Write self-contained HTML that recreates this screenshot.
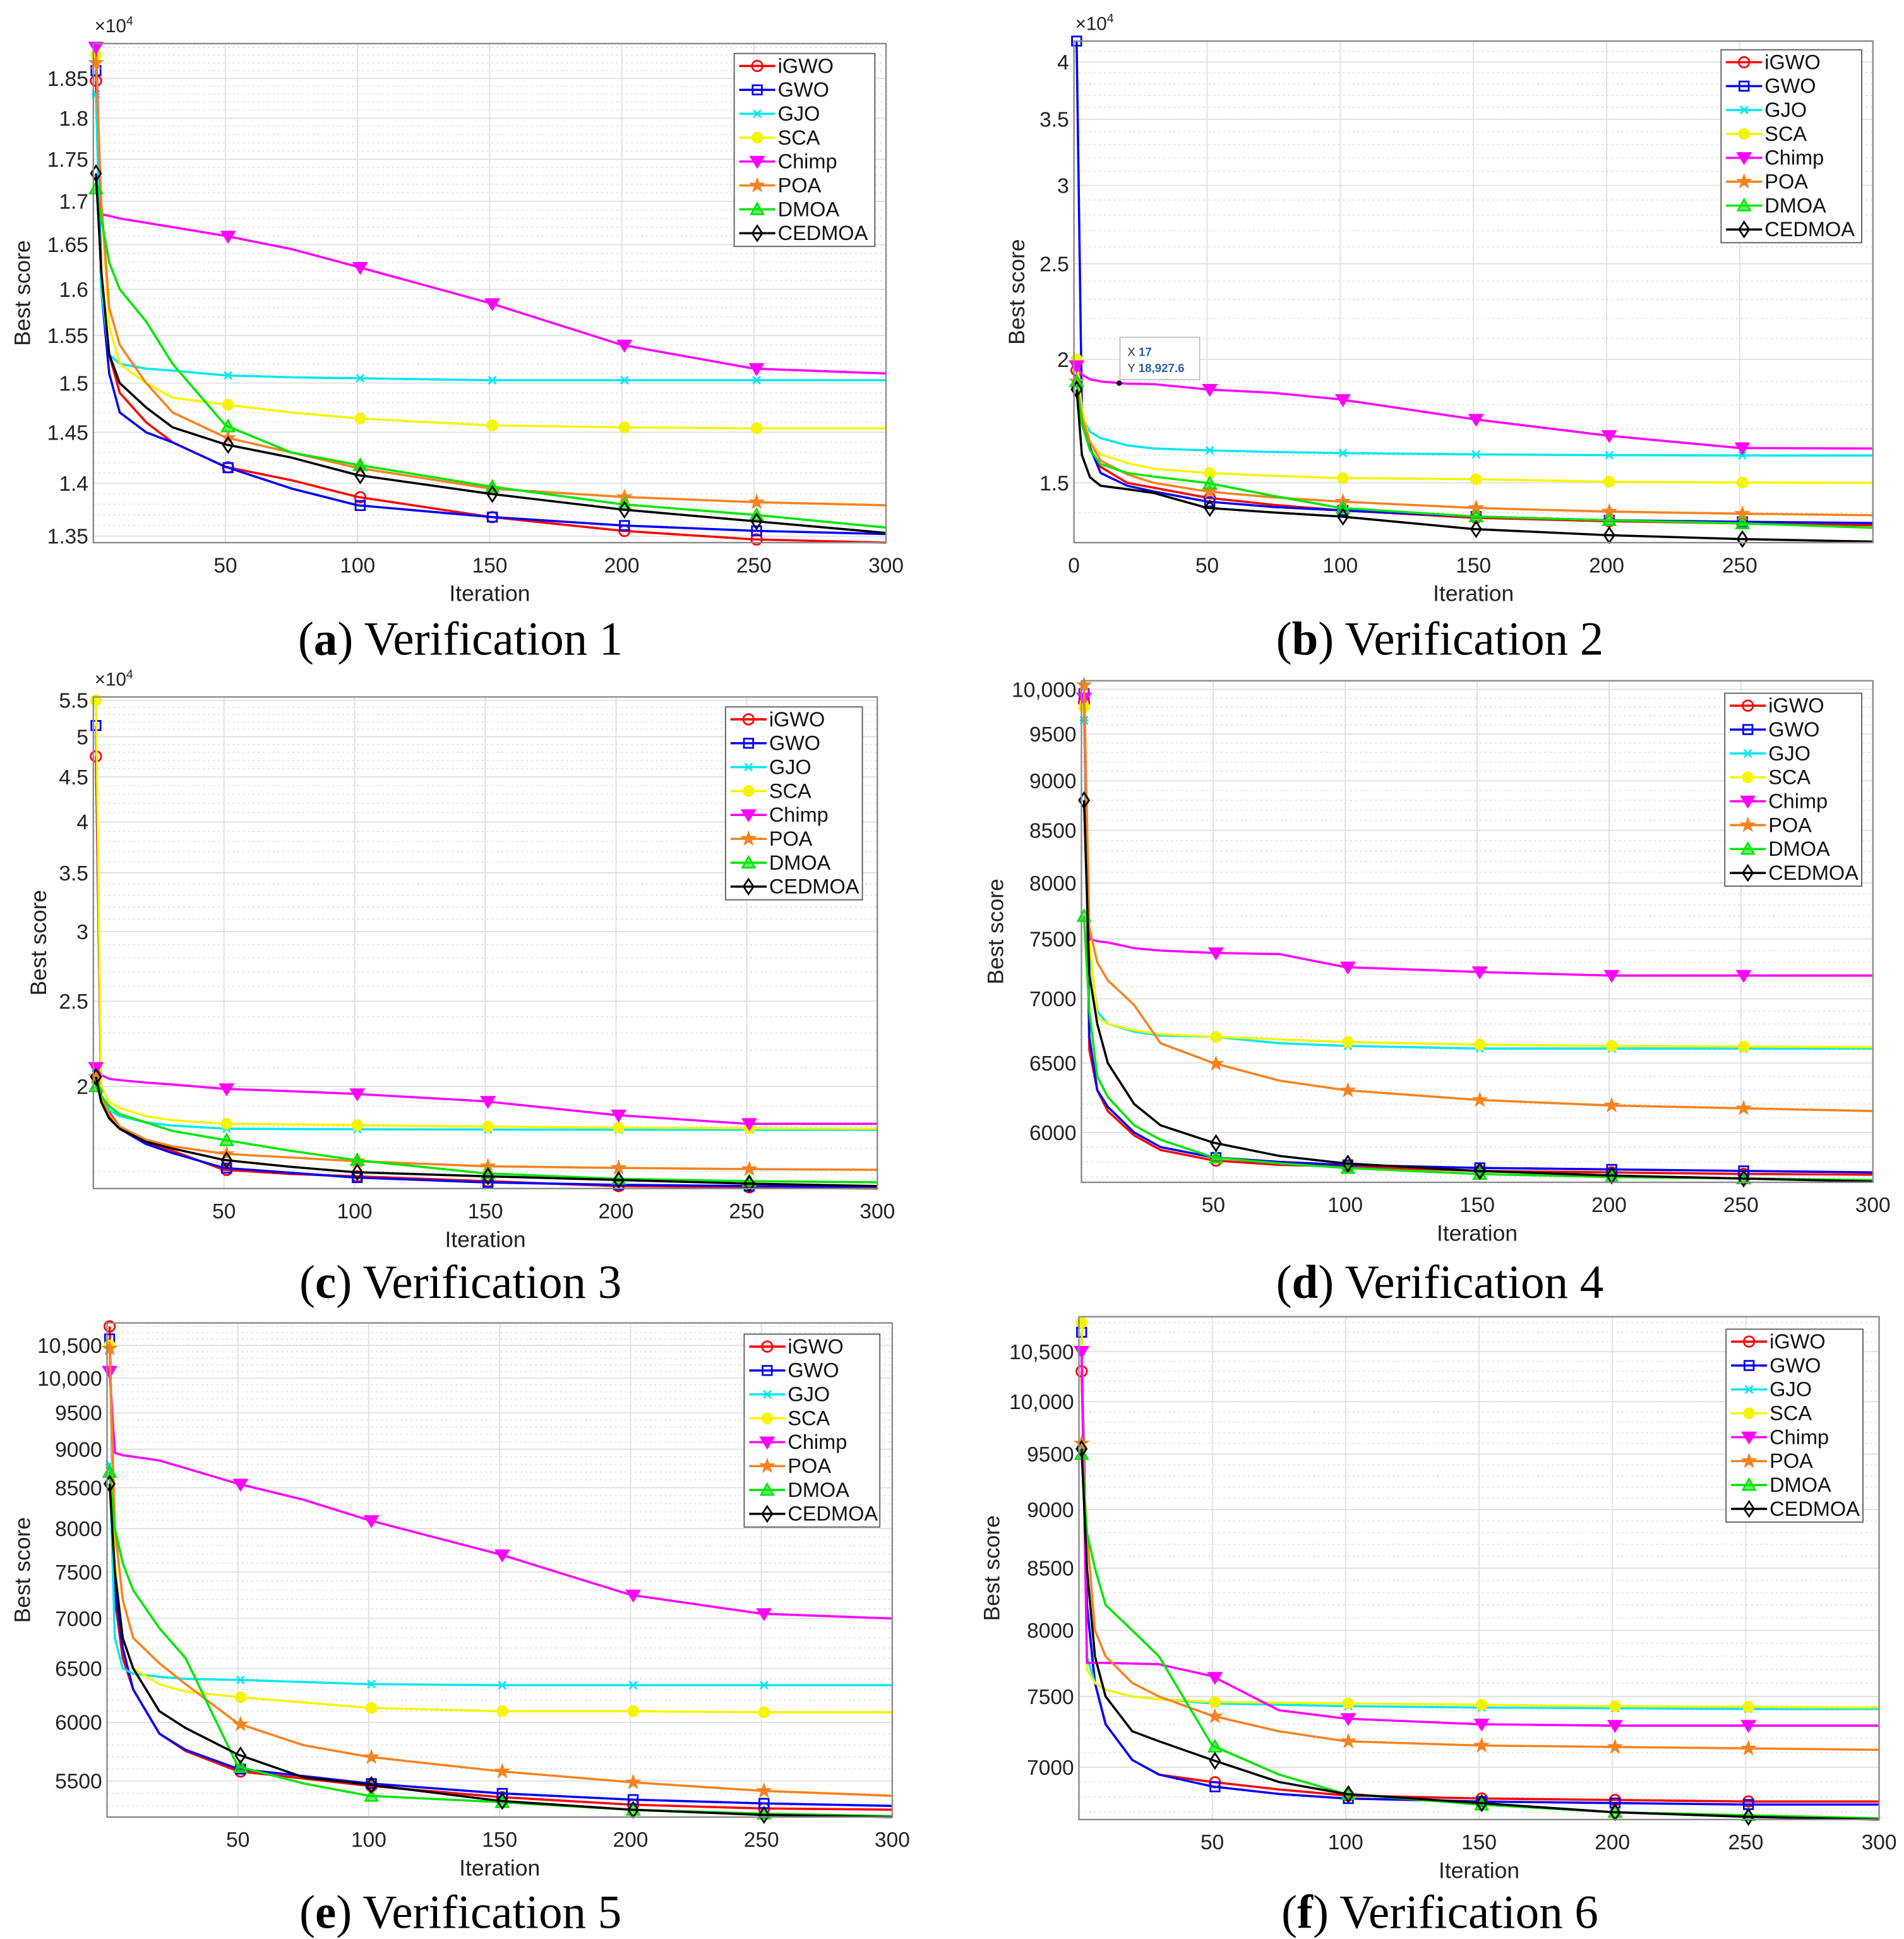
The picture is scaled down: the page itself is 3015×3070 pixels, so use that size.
<!DOCTYPE html>
<html><head><meta charset="utf-8"><title>Convergence curves</title>
<style>html,body{margin:0;padding:0;background:#fff}svg{display:block}</style></head>
<body>
<svg id="fig" xmlns="http://www.w3.org/2000/svg" width="3015" height="3070" viewBox="0 0 1530 1558" preserveAspectRatio="none" font-family="Liberation Sans, sans-serif"></svg>
<script>
// ---------- data ----------
const iters = [1,3,6,10,20,30,50,75,100,150,200,250,300];
const seriesNames = ['iGWO','GWO','GJO','SCA','Chimp','POA','DMOA','CEDMOA'];

const aIGWO=[18470,16200,15300,14900,14600,14400,14160,14030,13870,13680,13550,13470,13430];
const aGWO=[18600,16000,15100,14700,14500,14400,14160,13950,13790,13680,13600,13550,13520];
const aGJO=[18300,16000,15300,15200,15150,15130,15080,15060,15050,15030,15030,15030,15030];
const aSCA=[18800,17000,15600,15200,15000,14850,14780,14700,14640,14570,14550,14540,14540];
const aChimp=[18900,16850,16830,16800,16750,16700,16600,16450,16250,15850,15400,15150,15100];
const aPOA=[18700,17000,15800,15400,15000,14700,14450,14300,14150,13950,13870,13820,13790];
const aDMOA=[17150,16800,16300,16000,15650,15200,14570,14300,14180,13970,13800,13700,13580];
const aCED=[17330,16200,15300,15000,14750,14550,14380,14250,14080,13900,13750,13640,13530];

const bIGWO=[19500,17500,16200,15570,15000,14830,14490,14250,14070,13830,13720,13650,13590];
const bGWO=[42000,17500,16300,15350,14900,14700,14360,14180,14070,13870,13750,13700,13660];
const bGJO=[19800,17500,16900,16650,16370,16250,16180,16120,16080,16030,16000,15990,15990];
const bSCA=[20000,17800,16500,16030,15710,15500,15350,15250,15170,15130,15040,15010,15000];
const bChimp=[19700,19300,19100,19000,18900,18880,18650,18500,18220,17400,16750,16270,16250];
const bPOA=[19000,17500,16500,15800,15300,15000,14700,14500,14360,14150,14030,13960,13910];
const bDMOA=[19000,17200,16200,15670,15350,15220,15000,14550,14150,13870,13750,13650,13510];
const bCED=[18650,16000,15200,14900,14780,14650,14150,14000,13870,13470,13280,13160,13080];

const cIGWO=[47500,19500,18700,18000,17300,16900,16070,15900,15800,15600,15400,15350,15300];
const cGWO=[51500,19500,18600,17900,17200,16800,16150,15950,15750,15550,15450,15400,15360];
const cGJO=[21000,19500,18800,18500,18200,18050,17900,17880,17870,17860,17850,17850,17850];
const cSCA=[55000,20000,19200,18900,18500,18300,18130,18100,18070,18000,17950,17920,17900];
const cChimp=[21000,20600,20400,20330,20200,20100,19870,19750,19610,19230,18550,18130,18130];
const cPOA=[20500,19500,18600,18000,17400,17100,16760,16600,16440,16220,16150,16100,16070];
const cDMOA=[20000,19500,19000,18600,18200,17800,17380,16900,16490,15920,15700,15600,15550];
const cCED=[20500,19200,18400,17900,17300,17000,16490,16200,15970,15800,15650,15500,15400];

const dIGWO=[9850,6600,6300,6150,5980,5880,5810,5780,5770,5740,5730,5720,5715];
const dGWO=[9950,6700,6300,6180,6000,5900,5830,5800,5780,5760,5750,5740,5730];
const dGJO=[9650,7400,6900,6800,6740,6710,6700,6650,6630,6610,6610,6610,6610];
const dSCA=[9800,7500,6850,6800,6750,6720,6700,6680,6660,6640,6630,6625,6620];
const dChimp=[9900,7500,7480,7470,7420,7400,7380,7370,7260,7220,7190,7190,7190];
const dPOA=[10050,7600,7300,7150,6950,6650,6500,6370,6300,6230,6190,6170,6150];
const dDMOA=[7700,6900,6400,6250,6050,5950,5830,5790,5760,5720,5700,5690,5680];
const dCED=[8800,7200,6800,6500,6200,6050,5930,5840,5790,5740,5710,5690,5670];

const eIGWO=[10800,7200,6600,6300,5900,5750,5580,5520,5460,5370,5310,5280,5270];
const eGWO=[10600,7300,6700,6300,5900,5760,5600,5540,5480,5400,5350,5320,5300];
const eGJO=[8800,6800,6500,6450,6420,6400,6390,6370,6350,6340,6340,6340,6340];
const eSCA=[10500,7600,6800,6500,6350,6280,6230,6180,6130,6100,6100,6090,6090];
const eChimp=[10100,8950,8920,8900,8850,8750,8550,8350,8100,7700,7250,7050,7000];
const ePOA=[10450,8000,7200,6800,6550,6350,5990,5800,5700,5580,5490,5420,5380];
const eDMOA=[8700,8000,7600,7300,6900,6600,5620,5480,5380,5330,5270,5240,5220];
const eCED=[8550,7500,6800,6500,6100,5950,5720,5530,5470,5340,5270,5230,5200];

const fIGWO=[10300,8200,7600,7300,7050,6950,6900,6850,6810,6790,6780,6770,6770];
const fGWO=[10700,8200,7600,7300,7050,6950,6870,6820,6790,6770,6760,6750,6750];
const fGJO=[10500,7800,7600,7550,7500,7480,7450,7440,7430,7420,7415,7410,7410];
const fSCA=[10800,7700,7600,7550,7500,7480,7460,7455,7450,7440,7430,7425,7420];
const fChimp=[10500,7750,7750,7750,7745,7740,7650,7400,7340,7300,7290,7290,7290];
const fPOA=[9600,8800,8000,7800,7600,7500,7360,7250,7180,7150,7140,7130,7120];
const fDMOA=[9500,8800,8500,8200,8000,7800,7150,6950,6820,6750,6700,6680,6660];
const fCED=[9550,8500,7800,7500,7250,7180,7050,6900,6820,6760,6700,6670,6640];

const yTicksA=[13500,14000,14500,15000,15500,16000,16500,17000,17500,18000,18500];
const yLabelsA=['1.35','1.4','1.45','1.5','1.55','1.6','1.65','1.7','1.75','1.8','1.85'];
const yTicksB=[15000,20000,25000,30000,35000,40000];
const yLabelsB=['1.5','2','2.5','3','3.5','4'];
const yTicksC=[20000,25000,30000,35000,40000,45000,50000,55000];
const yLabelsC=['2','2.5','3','3.5','4','4.5','5','5.5'];
const yTicksD=[6000,6500,7000,7500,8000,8500,9000,9500,10000];
const yLabelsD=['6000','6500','7000','7500','8000','8500','9000','9500','10,000'];
const yTicksE=[5500,6000,6500,7000,7500,8000,8500,9000,9500,10000,10500];
const yLabelsE=['5500','6000','6500','7000','7500','8000','8500','9000','9500','10,000','10,500'];
const yTicksF=[7000,7500,8000,8500,9000,9500,10000,10500];
const yLabelsF=['7000','7500','8000','8500','9000','9500','10,000','10,500'];
const xTicks=[50,100,150,200,250,300];
const xTicksB=[0,50,100,150,200,250];

// ---------- style / layout ----------
const colors=['#ff0000','#0000ff','#00e8f0','#f5f500','#ff00ff','#f7821e','#00e600','#000000'];
const markers=['circle','square','x','dot','tri-down','star','tri-up','diamond'];

const panels=[
 {id:'a',cap:'Verification 1',x0:75,x1:712,y0:35,y1:436,ymin:13440,ymax:18950,yt:yTicksA,yl:yLabelsA,xt:xTicks,exp:true,ylx:18,leg:[590,43,113],capx:370,capy:514,
  data:[aIGWO,aGWO,aGJO,aSCA,aChimp,aPOA,aDMOA,aCED]},
 {id:'b',cap:'Verification 2',x0:863,x1:1505,y0:33,y1:436,ymin:13050,ymax:42000,yt:yTicksB,yl:yLabelsB,xt:xTicksB,exp:true,ylx:817,leg:[1383,40,113],capx:1157,capy:514,
  data:[bIGWO,bGWO,bGJO,bSCA,bChimp,bPOA,bDMOA,bCED]},
 {id:'c',cap:'Verification 3',x0:75,x1:705,y0:560,y1:955,ymin:15300,ymax:55500,yt:yTicksC,yl:yLabelsC,xt:xTicks,exp:true,ylx:31,leg:[583,568,110],capx:370,capy:1031,
  data:[cIGWO,cGWO,cGJO,cSCA,cChimp,cPOA,cDMOA,cCED]},
 {id:'d',cap:'Verification 4',x0:869,x1:1505,y0:547,y1:950,ymin:5665,ymax:10100,yt:yTicksD,yl:yLabelsD,xt:xTicks,exp:false,ylx:800,leg:[1386,557,110],capx:1157,capy:1031,
  data:[dIGWO,dGWO,dGJO,dSCA,dChimp,dPOA,dDMOA,dCED]},
 {id:'e',cap:'Verification 5',x0:86,x1:717,y0:1063,y1:1460,ymin:5213,ymax:10855,yt:yTicksE,yl:yLabelsE,xt:xTicks,exp:false,ylx:18,leg:[598,1072,109],capx:370,capy:1537,
  data:[eIGWO,eGWO,eGJO,eSCA,eChimp,ePOA,eDMOA,eCED]},
 {id:'f',cap:'Verification 6',x0:867,x1:1510,y0:1058,y1:1462,ymin:6652,ymax:10863,yt:yTicksF,yl:yLabelsF,xt:xTicks,exp:false,ylx:797,leg:[1387,1068,110],capx:1157,capy:1537,
  data:[fIGWO,fGWO,fGJO,fSCA,fChimp,fPOA,fDMOA,fCED]}
];

const NS='http://www.w3.org/2000/svg';
const svg=document.getElementById('fig');
function mk(tag,attrs,parent){const e=document.createElementNS(NS,tag);for(const k in attrs)e.setAttribute(k,attrs[k]);(parent||svg).appendChild(e);return e;}

function drawMarker(g,type,x,y,col){
  const s=4.2;let e;
  if(type==='circle'){e=mk('circle',{cx:x,cy:y,r:s,fill:'none',stroke:col,'stroke-width':1.4},g);}
  else if(type==='square'){e=mk('rect',{x:x-s+0.5,y:y-s+0.5,width:2*s-1,height:2*s-1,fill:'none',stroke:col,'stroke-width':1.4},g);}
  else if(type==='x'){e=mk('path',{d:`M${x-3},${y-3}L${x+3},${y+3}M${x-3},${y+3}L${x+3},${y-3}M${x-3.5},${y}L${x+3.5},${y}`,stroke:col,'stroke-width':1.4,fill:'none'},g);}
  else if(type==='dot'){e=mk('circle',{cx:x,cy:y,r:s,fill:col,stroke:col},g);}
  else if(type==='tri-down'){e=mk('path',{d:`M${x-5.5},${y-4}L${x+5.5},${y-4}L${x},${y+5}Z`,fill:col,stroke:col},g);}
  else if(type==='tri-up'){e=mk('path',{d:`M${x-5},${y+4}L${x+5},${y+4}L${x},${y-5}Z`,fill:col,'fill-opacity':0.6,stroke:col,'stroke-width':1.3},g);}
  else if(type==='star'){let d='';for(let i=0;i<10;i++){const r=i%2?2.4:6;const a=-Math.PI/2+i*Math.PI/5;d+=(i?'L':'M')+(x+r*Math.cos(a)).toFixed(2)+','+(y+r*Math.sin(a)).toFixed(2);}e=mk('path',{d:d+'Z',fill:col,stroke:col,'stroke-width':0.6},g);}
  else if(type==='diamond'){e=mk('path',{d:`M${x},${y-6}L${x+4},${y}L${x},${y+6}L${x-4},${y}Z`,fill:'none',stroke:col,'stroke-width':1.4},g);}
  
  
}
function interp(xs,ys,x){for(let i=1;i<xs.length;i++){if(x<=xs[i]){const t=(x-xs[i-1])/(xs[i]-xs[i-1]);return ys[i-1]+t*(ys[i]-ys[i-1]);}}return ys[ys.length-1];}

panels.forEach(p=>{
  const g=mk('g',{});
  
  
  const X=v=>p.x0+(v-0)/(300-0)*(p.x1-p.x0);
  const lmin=Math.log(p.ymin),lmax=Math.log(p.ymax);
  const Y=v=>p.y1-(Math.log(v)-lmin)/(lmax-lmin)*(p.y1-p.y0);
  const bg=mk('rect',{x:p.x0,y:p.y0,width:p.x1-p.x0,height:p.y1-p.y0,fill:'#fff'},g);
  
  
  const step=p.yt[1]-p.yt[0];
  for(let v=p.yt[0]-step;v<p.ymax;v+=step/5){
    if(v<=p.ymin) continue;
    const y=Y(v);
    const ln=mk('line',{x1:p.x0,x2:p.x1,y1:y,y2:y,stroke:'#d8d8d8','stroke-width':0.7,'stroke-dasharray':'1.5,2.5'},g);
    
    
  }
  p.yt.forEach((v,i)=>{
    const y=Y(v);
    const ln=mk('line',{x1:p.x0,x2:p.x1,y1:y,y2:y,stroke:'#e2e2e2','stroke-width':1},g);
    
    
    const t=mk('text',{x:p.x0-4,y:y+6,'text-anchor':'end','font-size':17,fill:'#222'},g);
    t.textContent=p.yl[i];
    
    
  });
  p.xt.forEach(v=>{
    const x=X(v);
    const ln=mk('line',{x1:x,x2:x,y1:p.y0,y2:p.y1,stroke:'#e2e2e2','stroke-width':1},g);
    
    
    const t=mk('text',{x:x,y:p.y1+24,'text-anchor':'middle','font-size':17,fill:'#222'},g);
    t.textContent=String(v);
    
    
  });
  p.data.forEach((vals,si)=>{
    const sg=mk('g',{},g);
    
    
    const pts=iters.map((it,i)=>X(it).toFixed(2)+','+Y(Math.min(p.ymax,Math.max(p.ymin,vals[i]))).toFixed(2)).join(' ');
    const pl=mk('polyline',{points:pts,fill:'none',stroke:colors[si],'stroke-width':1.8,'stroke-linejoin':'round'},sg);
    
    
    [1,51,101,151,201,251].forEach(it=>{
      const v=Math.min(p.ymax,Math.max(p.ymin,interp(iters,vals,it)));
      drawMarker(sg,markers[si],X(it),Y(v),colors[si]);
    });
  });
  const box=mk('rect',{x:p.x0,y:p.y0,width:p.x1-p.x0,height:p.y1-p.y0,fill:'none',stroke:'#8a8a8a','stroke-width':1.2},g);
  
  
  const yl=mk('text',{x:p.ylx,y:(p.y0+p.y1)/2,'text-anchor':'middle','font-size':18,fill:'#222',transform:`rotate(-90 ${p.ylx} ${(p.y0+p.y1)/2})`,dy:6},g);
  yl.textContent='Best score';
  
  
  const xl=mk('text',{x:(p.x0+p.x1)/2,y:p.y1+47,'text-anchor':'middle','font-size':18,fill:'#222'},g);
  xl.textContent='Iteration';
  
  
  if(p.exp){
    const ex=mk('text',{x:p.x0+1,y:p.y0-9,'font-size':15,fill:'#222'},g);
    ex.textContent='×10';
    
    
    const ts=mk('tspan',{dy:-6,'font-size':10},ex);ts.textContent='4';
  }
  const [lx,ly,lw]=p.leg;
  const lg=mk('g',{},g);
  
  
  const lb=mk('rect',{x:lx,y:ly,width:lw,height:155,fill:'#fff',stroke:'#666','stroke-width':1},lg);
  
  
  seriesNames.forEach((n,i)=>{
    const yy=ly+10+i*19.2;
    const ent=mk('g',{},lg);
    
    
    mk('line',{x1:lx+4,x2:lx+33,y1:yy,y2:yy,stroke:colors[i],'stroke-width':1.8},ent);
    drawMarker(ent,markers[i],lx+18.5,yy,colors[i]);
    const t=mk('text',{x:lx+35,y:yy+5.5,'font-size':16.5,fill:'#111'},ent);
    t.textContent=n;
  });
  const cp=mk('text',{x:p.capx,y:p.capy+12,'text-anchor':'middle','font-size':38,'font-family':'Liberation Serif, serif',fill:'#000'},svg);
  
  
  const b1=mk('tspan',{},cp);b1.textContent='(';
  const b2=mk('tspan',{'font-weight':'bold'},cp);b2.textContent=p.id;
  const b3=mk('tspan',{},cp);b3.textContent=') '+p.cap;

  if(p.id==='b'){
    const tip=mk('g',{},g);
    
    
    const px=X(17),py=Y(18927.6);
    mk('circle',{cx:px,cy:py,r:2.2,fill:'#111'},tip);
    mk('rect',{x:900,y:271,width:64,height:34,fill:'#fff',stroke:'#bbb','stroke-width':0.8},tip);
    const t1=mk('text',{x:906,y:286,'font-size':9.5,fill:'#333'},tip);
    t1.textContent='X ';
    const s1=mk('tspan',{fill:'#2a5fb0','font-weight':'bold'},t1);s1.textContent='17';
    const t2=mk('text',{x:906,y:299,'font-size':9.5,fill:'#333'},tip);
    t2.textContent='Y ';
    const s2=mk('tspan',{fill:'#2a5fb0','font-weight':'bold'},t2);s2.textContent='18,927.6';
  }
});
</script>
</body></html>
